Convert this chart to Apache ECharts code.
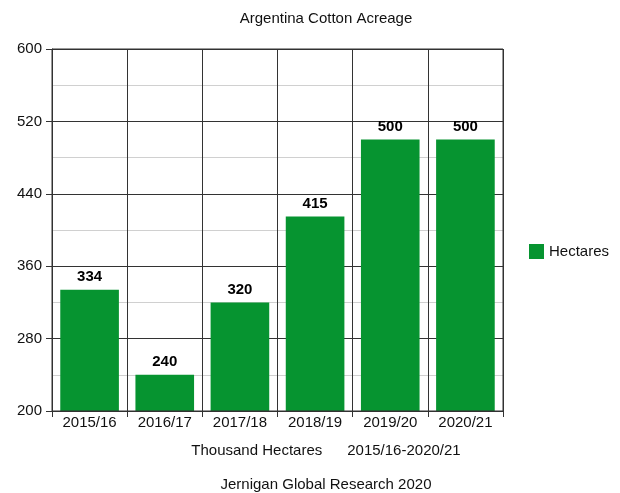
<!DOCTYPE html>
<html>
<head>
<meta charset="utf-8">
<script src="https://cdn.jsdelivr.net/npm/echarts@6/dist/echarts.min.js"></script>
<style>
  html, body { margin: 0; padding: 0; background: #fff; }
  #chart { width: 620px; height: 493px; }
</style>
</head>
<body>
<div id="chart"></div>
<script>
// Argentina cotton acreage, thousand hectares by marketing year
const seasons = ['2015/16', '2016/17', '2017/18', '2018/19', '2019/20', '2020/21'];
const hectares = [334, 240, 320, 415, 500, 500];
const yTicks = { min: 200, max: 600, step: 80 };

const FONT = '"Liberation Sans", Arial, sans-serif';
const FS = 15;
const GRID_DARK = '#333333';

const chart = echarts.init(document.getElementById('chart'), null, { renderer: 'canvas' });

const plainText = { fontSize: FS, fontWeight: 'normal', color: '#111', fontFamily: FONT };

chart.setOption({
  animation: false,
  backgroundColor: '#ffffff',
  textStyle: { fontFamily: FONT },
  title: [
    { text: 'Argentina Cotton Acreage', left: 326, top: 11, padding: 0, textAlign: 'center',
      textStyle: plainText },
    { text: 'Thousand Hectares      2015/16-2020/21', left: 326, top: 443, padding: 0, textAlign: 'center',
      textStyle: plainText },
    { text: 'Jernigan Global Research 2020', left: 326, top: 477, padding: 0, textAlign: 'center',
      textStyle: plainText }
  ],
  legend: {
    data: ['Hectares'],
    left: 529, top: 244, padding: 0,
    itemWidth: 15, itemHeight: 15, itemGap: 6,
    icon: 'rect',
    textStyle: { fontSize: FS, color: '#111', fontFamily: FONT }
  },
  grid: { left: 52, top: 49, right: 117, bottom: 82, containLabel: false },
  xAxis: {
    type: 'category',
    data: seasons,
    boundaryGap: true,
    axisLine: { show: true, lineStyle: { color: GRID_DARK, width: 1 } },
    axisTick: { show: true, length: 6, lineStyle: { color: GRID_DARK } },
    axisLabel: { color: '#111', fontSize: FS, margin: 4, fontFamily: FONT },
    splitLine: { show: true, lineStyle: { color: GRID_DARK, width: 1 } }
  },
  yAxis: {
    type: 'value',
    min: yTicks.min, max: yTicks.max, interval: yTicks.step,
    axisLine: { show: true, lineStyle: { color: GRID_DARK, width: 1 } },
    axisTick: { show: true, length: 6, lineStyle: { color: GRID_DARK } },
    axisLabel: { color: '#111', fontSize: FS, margin: 10, fontFamily: FONT },
    splitLine: { show: true, lineStyle: { color: GRID_DARK, width: 1 } },
    minorTick: { show: false, splitNumber: 2 },
    minorSplitLine: { show: true, lineStyle: { color: '#d0d0d0', width: 1 } }
  },
  series: [{
    name: 'Hectares',
    type: 'bar',
    data: hectares,
    barWidth: '78%',
    itemStyle: { color: '#069430' },
    label: {
      show: true, position: 'top', distance: 5,
      color: '#000', fontSize: FS, fontWeight: 'bold', fontFamily: FONT
    }
  }],
  graphic: [{
    type: 'rect',
    shape: { x: 52, y: 49, width: 451, height: 362 },
    style: { fill: 'none', stroke: GRID_DARK, lineWidth: 1 },
    silent: true, z: 100
  }]
});
</script>
</body>
</html>
